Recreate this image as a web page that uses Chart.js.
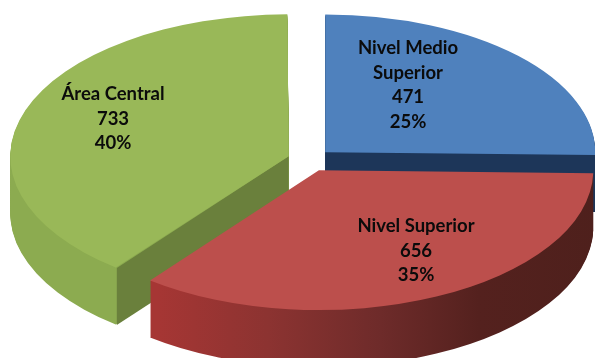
<!DOCTYPE html>
<html><head><meta charset="utf-8">
<style>html,body{margin:0;padding:0;background:#fff}canvas{display:block}</style>
<script src="https://cdn.jsdelivr.net/npm/chart.js@4"></script>
</head><body>
<canvas id="c" width="595" height="358"></canvas>
<script>
const categories = [["Nivel Medio","Superior"],["Nivel Superior"],["Área Central"]];
const values = [471,656,733];
const percentLabels = ["25%","35%","40%"];
const topColors = ["#4F81BD","#BC4F4C","#99B858"];
const cutColors = ["#1D3659",null,"#6A803C"];
const rimStops = [
  [[0,"#1D3659"],[1,"#1D3659"]],
  [[0,"#A63634"],[0.25,"#8C3331"],[0.5,"#6E2B2A"],[0.72,"#54211E"],[1,"#4E201C"]],
  [[0,"#8CAB50"],[0.5,"#8BA650"],[1,"#82A04A"]]
];
const labelCenters = [[408,48],[416,226],[113,94]];
const lineHeight = 24.6;
const squash = 0.51, depth = 57, centerY = 160;
const cutEdge = ["end",null,"start"];
const drawOrder = [0,2,1];

function withOptions(arc, bg, fn){
  const saved = arc.options;
  const o = Object.create(saved); o.backgroundColor = bg; o.borderWidth = 0;
  arc.options = o; fn(); arc.options = saved;
}
function place(ctx, arc, dy){
  ctx.translate(0, centerY + dy);
  ctx.scale(1, squash);
  ctx.translate(0, -arc.y);
}
const pie3d = {
  id:"pie3d",
  beforeDatasetsDraw(chart){
    const ctx = chart.ctx, meta = chart.getDatasetMeta(0);
    drawOrder.forEach(i=>{
      const arc = meta.data[i];
      const x0 = arc.x - arc.outerRadius - 20, x1 = arc.x + arc.outerRadius + 20;
      const g = ctx.createLinearGradient(Math.max(x0,147), 0, Math.min(x1,595), 0);
      rimStops[i].forEach(s=>g.addColorStop(s[0],s[1]));
      for(let d=depth; d>=1; d--){
        ctx.save(); place(ctx,arc,d);
        withOptions(arc,g,()=>arc.draw(ctx));
        ctx.restore();
      }
      if(cutEdge[i]){
        const off = arc.options.offset/4, mid=(arc.startAngle+arc.endAngle)/2;
        const circ = arc.endAngle-arc.startAngle;
        const fix = 1-Math.sin(Math.min(Math.PI,circ));
        const ax = arc.x+Math.cos(mid)*off, ay = centerY+Math.sin(mid)*off*squash;
        const a = cutEdge[i]==="end"?arc.endAngle:arc.startAngle;
        const r = arc.outerRadius+off*fix;
        const ex = ax+Math.cos(a)*r, ey = ay+Math.sin(a)*r*squash;
        ctx.save();
        ctx.fillStyle = cutColors[i];
        ctx.beginPath();
        ctx.moveTo(ax,ay); ctx.lineTo(ex,ey); ctx.lineTo(ex,ey+depth); ctx.lineTo(ax,ay+depth);
        ctx.closePath(); ctx.fill();
        ctx.restore();
      }
      ctx.save(); place(ctx,arc,0); arc.draw(ctx); ctx.restore();
    });
    return false;
  },
  afterDraw(chart){
    const ctx = chart.ctx;
    ctx.save();
    ctx.fillStyle="#0b0b0b";
    ctx.font='bold 18.5px Lato';
    ctx.textAlign="center"; ctx.textBaseline="middle";
    categories.forEach((c,i)=>{
      const lines=[...c,String(values[i]),percentLabels[i]];
      lines.forEach((t,j)=>ctx.fillText(t,labelCenters[i][0],labelCenters[i][1]+j*lineHeight));
    });
    ctx.restore();
  }
};
new Chart(document.getElementById("c"),{
  type:"pie",
  data:{labels:categories.map(c=>c.join(" ")),datasets:[{
    data:values,backgroundColor:topColors,borderWidth:0,offset:88,hoverOffset:88
  }]},
  options:{
    responsive:false,animation:false,radius:270,
    layout:{padding:{left:24}},
    events:[],
    plugins:{legend:{display:false},tooltip:{enabled:false}}
  },
  plugins:[pie3d]
});
</script>
</body></html>
